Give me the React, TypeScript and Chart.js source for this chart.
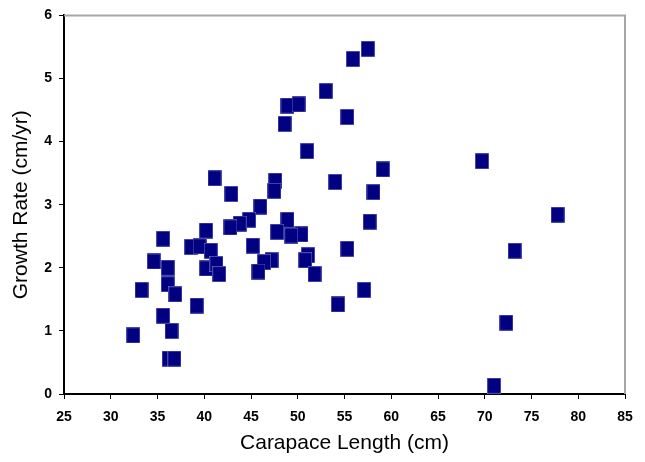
import React, { useEffect, useRef } from "react";
import { Chart, registerables } from "chart.js";

Chart.register(...registerables);

const carapaceLength = [
  57.5, 55.9, 53.0, 48.9, 50.1, 48.6, 55.3, 51.0, 41.1, 42.9,
  47.6, 47.5, 54.0, 46.0, 69.7, 59.1, 58.1, 57.7, 50.4, 55.3,
  51.1, 50.8, 51.8, 57.1, 54.3, 77.8, 73.2, 72.3, 71.0, 44.8,
  43.8, 42.8, 48.9, 47.8, 49.3, 45.2, 47.2, 46.4, 45.8, 40.2,
  38.6, 39.5, 40.7, 40.2, 41.3, 41.6, 35.6, 34.6, 36.1, 36.1,
  36.9, 33.3, 39.2, 35.6, 36.5, 32.4, 36.2, 36.8,
];
const growthRate = [
  5.47, 5.31, 4.80, 4.57, 4.59, 4.28, 4.39, 3.85, 3.42, 3.17,
  3.38, 3.22, 3.36, 2.97, 3.69, 3.56, 3.20, 2.73, 2.53, 2.30,
  2.20, 2.12, 1.90, 1.65, 1.42, 2.84, 2.27, 1.13, 0.13, 2.76,
  2.70, 2.64, 2.76, 2.57, 2.51, 2.35, 2.12, 2.09, 1.94, 2.59,
  2.33, 2.34, 2.27, 1.99, 2.06, 1.90, 2.46, 2.10, 2.00, 1.74,
  1.58, 1.65, 1.40, 1.24, 1.00, 0.93, 0.56, 0.56,
];
const xTitle = "Carapace Length (cm)";
const yTitle = "Growth Rate (cm/yr)";

function makeMarker(): HTMLCanvasElement {
  const c = document.createElement("canvas");
  c.width = 14;
  c.height = 16;
  const g = c.getContext("2d")!;
  g.fillStyle = "#7878c8";
  g.fillRect(0, 0, 14, 16);
  g.fillStyle = "#000080";
  g.fillRect(0.6, 0.6, 12.8, 14.8);
  return c;
}

const borderPlugin = {
  id: "plotBorder",
  beforeDatasetsDraw(chart: any) {
    const { ctx, chartArea } = chart;
    ctx.save();
    ctx.strokeStyle = "#a6a6a6";
    ctx.lineWidth = 2;
    ctx.beginPath();
    ctx.moveTo(chartArea.left, chartArea.top);
    ctx.lineTo(chartArea.right, chartArea.top);
    ctx.lineTo(chartArea.right, chartArea.bottom);
    ctx.stroke();
    ctx.restore();
  },
};

export default function App() {
  const ref = useRef<HTMLCanvasElement | null>(null);
  useEffect(() => {
    document.body.style.margin = "0";
    const marker = makeMarker();
    const data = carapaceLength.map((x, i) => ({ x, y: growthRate[i] }));
    const chart = new Chart(ref.current!, {
      type: "scatter",
      data: {
        datasets: [
          {
            data,
            pointStyle: marker as any,
            pointRadius: 8,
            backgroundColor: "#000080",
            borderColor: "#000080",
          },
        ],
      },
      options: {
        animation: false,
        responsive: false,
        layout: { padding: { left: 0, right: 20, top: 13, bottom: 0 } },
        plugins: { legend: { display: false }, tooltip: { enabled: false } },
        scales: {
          x: {
            type: "linear",
            min: 25,
            max: 85,
            afterFit: (s: any) => {
              s.height = 68;
            },
            ticks: {
              stepSize: 5,
              color: "#000",
              padding: 10,
              font: { family: "Liberation Sans", size: 14, weight: "bold" },
            },
            grid: { drawOnChartArea: false, drawTicks: true, tickLength: 5, color: "#000" },
            border: { color: "#000", width: 2 },
            title: {
              display: true,
              text: xTitle,
              color: "#000",
              padding: { top: 4, bottom: 6 },
              font: { family: "Liberation Sans", size: 21 },
            },
          },
          y: {
            min: 0,
            max: 6,
            afterFit: (s: any) => {
              s.width = 64;
            },
            ticks: {
              stepSize: 1,
              color: "#000",
              padding: 7,
              font: { family: "Liberation Sans", size: 14, weight: "bold" },
            },
            grid: { drawOnChartArea: false, drawTicks: true, tickLength: 5, color: "#000" },
            border: { color: "#000", width: 2 },
            title: {
              display: true,
              text: yTitle,
              color: "#000",
              padding: { top: 9, bottom: 4 },
              font: { family: "Liberation Sans", size: 21 },
            },
          },
        },
      },
      plugins: [borderPlugin],
    });
    return () => chart.destroy();
  }, []);
  return (
    <div style={{ position: "absolute", left: 0, top: 0, width: 645, height: 462, background: "#fff" }}>
      <canvas ref={ref} width={645} height={462} />
    </div>
  );
}
